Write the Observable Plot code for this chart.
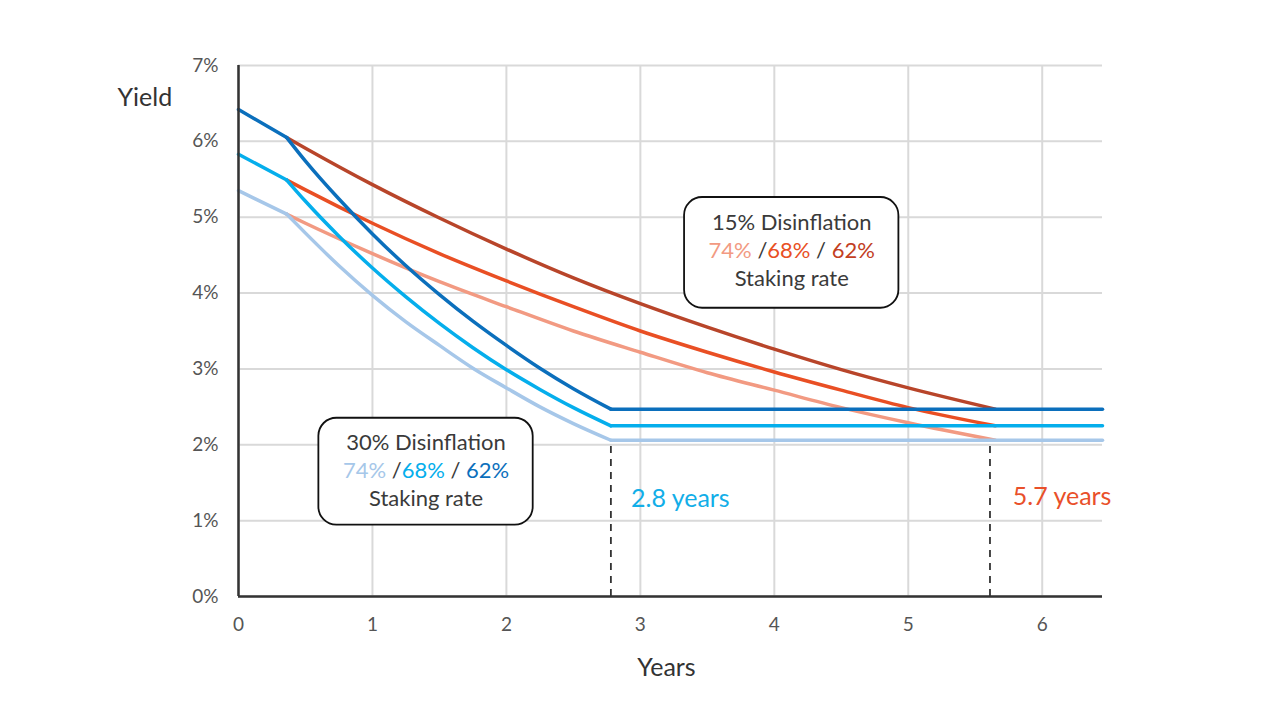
<!DOCTYPE html>
<html>
<head>
<meta charset="utf-8">
<script src="https://cdn.jsdelivr.net/npm/d3@7"></script>
<script src="https://cdn.jsdelivr.net/npm/@observablehq/plot@0.6"></script>
<style>
  body { margin: 0; background: #fff; }
  #chart { width: 1280px; height: 720px; }
</style>
</head>
<body>
<div id="chart"></div>
<script>
// ---- Data ----
// 30% disinflation scenarios (blue)
const xs30   = [0, 0.36, 0.5, 0.75, 1, 1.25, 1.5, 1.75, 2, 2.25, 2.5, 2.78, 6.45];
const blue62 = [6.42, 6.05, 5.74, 5.24, 4.78, 4.36, 3.98, 3.63, 3.31, 3.01, 2.74, 2.47, 2.47];
const blue68 = [5.83, 5.49, 5.21, 4.75, 4.33, 3.95, 3.60, 3.28, 2.99, 2.73, 2.49, 2.25, 2.25];
const blue74 = [5.35, 5.04, 4.79, 4.36, 3.97, 3.62, 3.31, 3.01, 2.75, 2.50, 2.28, 2.06, 2.06];
// 15% disinflation scenarios (red)
const xs15   = [0.36, 0.5, 1, 1.5, 2, 2.5, 3, 3.5, 4, 4.5, 5, 5.65];
const red62  = [6.05, 5.91, 5.43, 4.99, 4.58, 4.20, 3.86, 3.55, 3.26, 2.99, 2.75, 2.47];
const red68  = [5.49, 5.36, 4.92, 4.52, 4.16, 3.82, 3.50, 3.22, 2.96, 2.72, 2.49, 2.25];
const red74  = [5.04, 4.92, 4.52, 4.15, 3.82, 3.50, 3.22, 2.95, 2.72, 2.49, 2.29, 2.06];

const xTicks = [0, 1, 2, 3, 4, 5, 6];
const yTicks = [0, 1, 2, 3, 4, 5, 6, 7];
const dashX  = [2.78, 5.61];
const dashTop = 2.0;

const colors = {
  blue62: "#0b6fbc", blue68: "#05aeec", blue74: "#a6c7e9",
  red62: "#b8452a", red68: "#e94f24", red74: "#f29a82"
};

// annotation boxes (data coordinates)
const boxes = [
  {x1: 0.60, x2: 2.20, y1: 0.94, y2: 2.35, cx: 1.40},
  {x1: 3.33, x2: 4.93, y1: 3.80, y2: 5.26, cx: 4.13}
];
const boxTitles = ["30% Disinflation", "15% Disinflation"];
const boxRates = "74% /68% / 62%";
const boxFoot = "Staking rate";
const callouts = [
  {x: 2.93, y: 1.29, text: "2.8 years", color: "#12aee8"},
  {x: 5.78, y: 1.31, text: "5.7 years", color: "#e9502a"}
];

const rows = (xs, ys) => xs.map((x, i) => ({x, y: ys[i]}));
const lineOpts = (c, curve) => ({x: "x", y: "y", stroke: c, strokeWidth: 3.5, strokeLinejoin: "round", strokeLinecap: "round", curve});
// blue series: straight start, curved decay, flat tail
function blueMarks(ys, c) {
  const r = rows(xs30, ys);
  const last = r.length - 1;
  return [
    Plot.line(r.slice(0, 2), lineOpts(c, "linear")),
    Plot.line(r.slice(1, last), lineOpts(c, "monotone-x")),
    Plot.line(r.slice(last - 1), lineOpts(c, "linear"))
  ];
}

const px = 1 / 75.86; // one pixel in y data units (for text placement)
const fontFamily = "Lato, 'Noto Sans', sans-serif";

const chart = Plot.plot({
  width: 1280,
  height: 720,
  marginLeft: 238,
  marginRight: 178,
  marginTop: 65,
  marginBottom: 124,
  style: {fontFamily, fontSize: "19px", color: "#555", background: "#fff"},
  x: {domain: [0, 6.45]},
  y: {domain: [0, 7]},
  marks: [
    Plot.gridY(yTicks, {stroke: "#d9d9d9", strokeOpacity: 1, strokeWidth: 2}),
    Plot.gridX(xTicks, {stroke: "#d9d9d9", strokeOpacity: 1, strokeWidth: 2}),
    Plot.ruleX(dashX, {y1: 0, y2: dashTop, stroke: "#333", strokeWidth: 1.8, strokeDasharray: "7,6"}),
    Plot.line(rows(xs15, red74), lineOpts(colors.red74, "monotone-x")),
    Plot.line(rows(xs15, red68), lineOpts(colors.red68, "monotone-x")),
    Plot.line(rows(xs15, red62), lineOpts(colors.red62, "monotone-x")),
    ...blueMarks(blue74, colors.blue74),
    ...blueMarks(blue68, colors.blue68),
    ...blueMarks(blue62, colors.blue62),
    Plot.ruleX([0], {stroke: "#333", strokeWidth: 2.5}),
    Plot.ruleY([0], {stroke: "#333", strokeWidth: 2.5}),
    Plot.axisX(xTicks, {tickSize: 0, tickPadding: 21, fontSize: 19, fill: "#555", tickFormat: d => String(d), label: null}),
    Plot.axisY(yTicks, {tickSize: 0, tickPadding: 20, fontSize: 19, fill: "#555", tickFormat: d => d + "%", label: null}),
    Plot.rect(boxes, {x1: "x1", x2: "x2", y1: "y1", y2: "y2", fill: "white", stroke: "#111", strokeWidth: 1.8, rx: 18}),
    Plot.text(boxes, {x: "cx", y: d => d.y2 - 25 * px, text: (d, i) => boxTitles[i], fill: "#3a3a3a", fontSize: 22}),
    Plot.text(boxes, {x: "cx", y: d => d.y2 - 53 * px, text: () => boxRates, fill: "#3a3a3a", fontSize: 22}),
    Plot.text(boxes, {x: "cx", y: d => d.y2 - 81 * px, text: () => boxFoot, fill: "#3a3a3a", fontSize: 22}),
    Plot.text(callouts, {x: "x", y: "y", text: "text", fill: "color", textAnchor: "start", fontSize: 25}),
    Plot.text(["Yield"], {frameAnchor: "top-left", lineAnchor: "middle", dx: -121, dy: 32, textAnchor: "start", fill: "#333", fontSize: 25}),
    Plot.text(["Years"], {frameAnchor: "bottom", lineAnchor: "middle", dx: -4, dy: 71, fill: "#333", fontSize: 25})
  ]
});

// colour the staking-rate percentages in each box
const rateColors = [
  [colors.blue74, colors.blue68, colors.blue62],
  [colors.red74, colors.red68, "#c2401f"]
];
d3.select(chart).selectAll("text")
  .filter(function() { return this.textContent === boxRates; })
  .each(function(d, i) {
    const t = d3.select(this);
    const cols = rateColors[Math.min(i, 1)];
    t.text(null);
    const parts = [["74%", cols[0]], [" /", "#3a3a3a"], ["68%", cols[1]], [" / ", "#3a3a3a"], ["62%", cols[2]]];
    for (const [s, c] of parts) t.append("tspan").attr("fill", c).text(s);
  });

document.getElementById("chart").appendChild(chart);
</script>
</body>
</html>
